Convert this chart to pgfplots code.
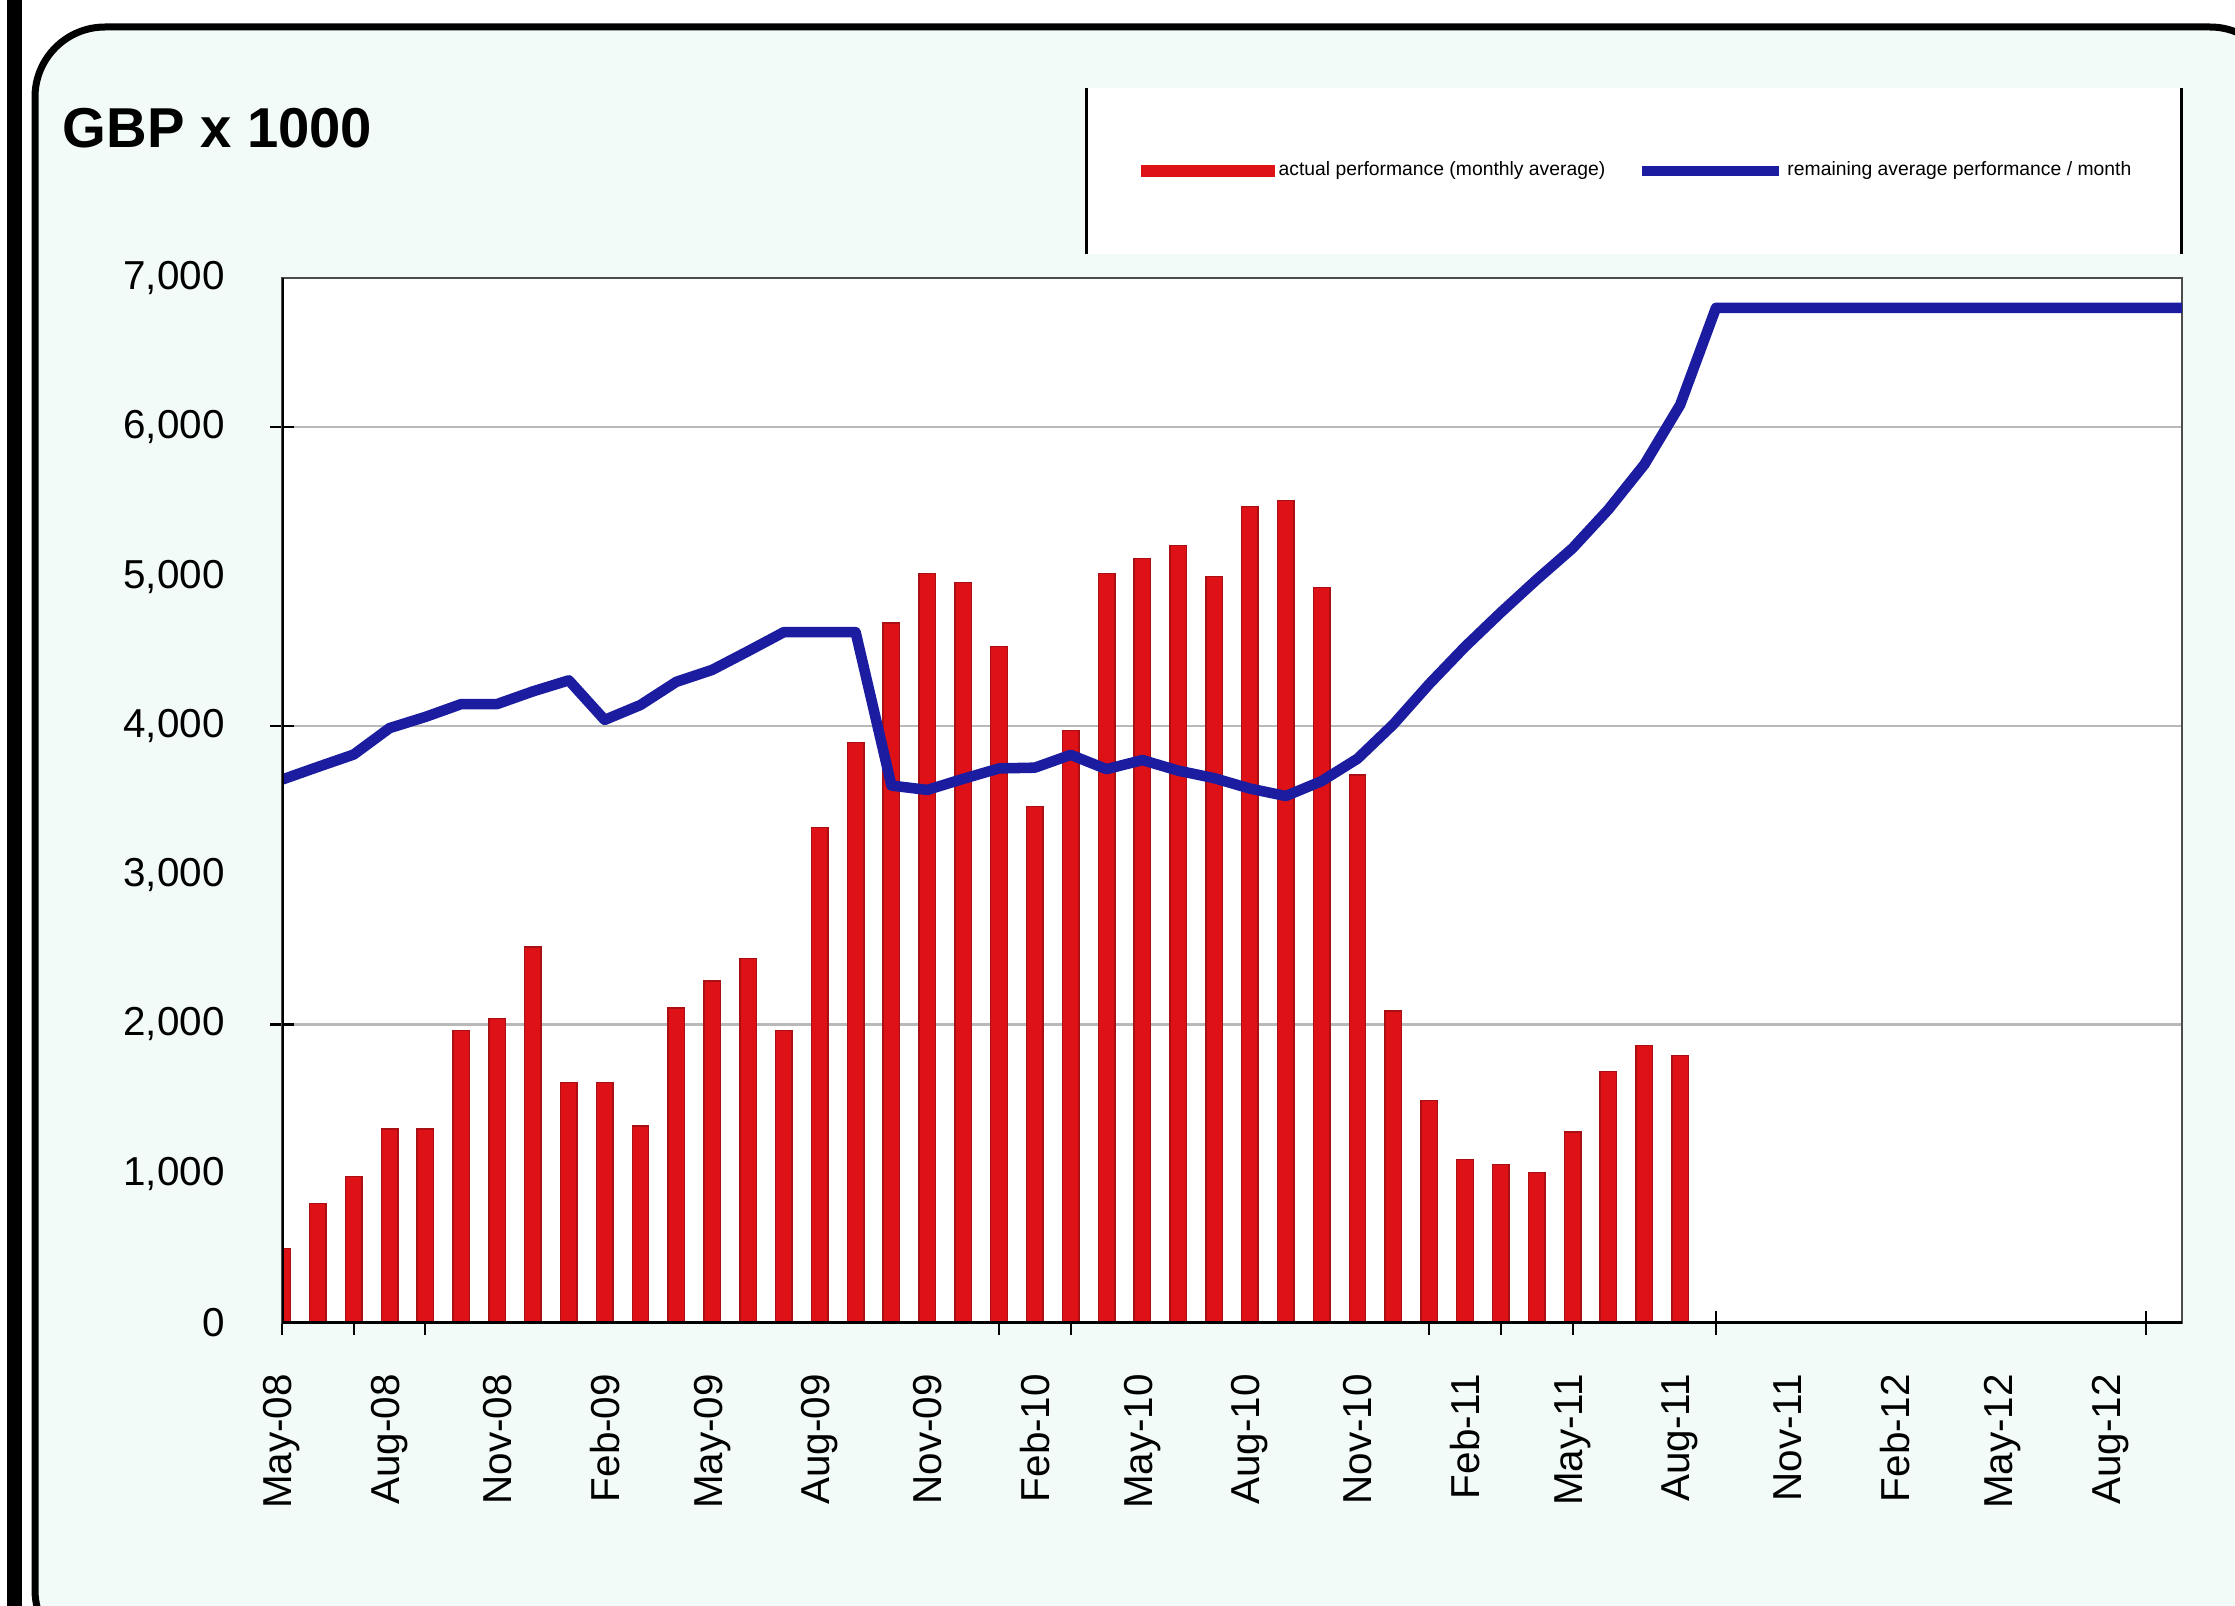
\documentclass[border=0pt]{standalone}
\usepackage{fontspec}
\setmainfont{Liberation Sans}
\usepackage{pgfplots}
\pgfplotsset{compat=1.18}
\definecolor{barred}{RGB}{222,18,22}
\definecolor{baredge}{RGB}{170,15,20}
\definecolor{lineblue}{RGB}{28,28,160}
\definecolor{panel}{RGB}{243,251,249}
\begin{document}
\begin{tikzpicture}
\useasboundingbox (0,0) rectangle (22.35cm,-16.05cm);
\begin{scope}
\clip (0,0) rectangle (22.35cm,-16.05cm);
\fill[white] (0,0) rectangle (22.35cm,-16.05cm);
\fill[black] (0.07cm,0.1cm) rectangle (0.22cm,-16.2cm);
\draw[line width=0.07cm, fill=panel, rounded corners=0.7cm] (0.35cm,-0.27cm) rectangle (22.8cm,-16.6cm);
\end{scope}
\node[anchor=base west, inner sep=0pt, font=\fontsize{16}{19}\selectfont\bfseries] at (0.62cm,-1.48cm) {GBP x 1000};
\fill[white] (10.86cm,-0.88cm) rectangle (21.81cm,-2.54cm);
\draw[black, line width=0.03cm] (10.86cm,-0.88cm) -- (10.86cm,-2.54cm);
\draw[black, line width=0.03cm] (21.81cm,-0.88cm) -- (21.81cm,-2.54cm);
\begin{axis}[
  at={(2.82cm,-13.23cm)}, anchor=south west,
  scale only axis, width=19cm, height=10.45cm,
  xmin=0, xmax=53, ymin=0, ymax=7000,
  axis background/.style={fill=white},
  axis line style={draw=gray!60!black, line width=0.8pt},
  xtick pos=bottom, ytick pos=left,
  xtick={0,3,...,51},
  xticklabels={May-08,Aug-08,Nov-08,Feb-09,May-09,Aug-09,Nov-09,Feb-10,May-10,Aug-10,Nov-10,Feb-11,May-11,Aug-11,Nov-11,Feb-12,May-12,Aug-12},
  ytick={0,1000,...,7000},
  major tick length=0pt,
  minor xtick={0,2,4,20,22,32,34,36,40,52},
  minor ytick={2000,4000,6000},
  minor tick length=0.24cm,
  tick align=center,
  minor tick style={black, line width=0.6pt},
  yminorgrids=true,
  minor grid style={gray!55, line width=0.6pt},
  /pgf/number format/assume math mode=true,
  /pgf/number format/1000 sep={,},
  tick label style={font=\fontsize{11.5}{13}\selectfont},
  xticklabel style={rotate=90, anchor=east},
  xticklabel shift=11pt,
  yticklabel shift=12.8pt,
  legend columns=2,
  legend style={at={(0.4516,1.1024)}, anchor=west, draw=none, fill=none, inner sep=0pt,
    font=\fontsize{5.5}{6.5}\selectfont,
    /tikz/every even column/.append style={column sep=0.29cm},
    nodes={inner sep=1pt}},
]
\addplot[ybar, bar width=0.165cm, bar shift=0pt, fill=barred, draw=baredge, line width=0.4pt,
  legend image code/.code={\fill[barred] (0cm,-0.055cm) rectangle (1.33cm,0.055cm);}]
coordinates {
(0,500) (1,800) (2,980) (3,1300) (4,1300) (5,1960) (6,2040) (7,2520) (8,1610) (9,1610)
(10,1320) (11,2110) (12,2290) (13,2440) (14,1960) (15,3320) (16,3890) (17,4690) (18,5020) (19,4960)
(20,4530) (21,3460) (22,3970) (23,5020) (24,5120) (25,5210) (26,5000) (27,5470) (28,5510) (29,4925)
(30,3670) (31,2090) (32,1490) (33,1095) (34,1060) (35,1010) (36,1280) (37,1685) (38,1860) (39,1790)
};
\addlegendentry{actual performance (monthly average)}
\addplot[lineblue, line width=3pt, line join=round,
  legend image code/.code={\draw[lineblue, line width=2.6pt] (0cm,0cm) -- (1.37cm,0cm);}]
coordinates {
(0,3640) (1,3725) (2,3808) (3,3985) (4,4060) (5,4146) (6,4146) (7,4231) (8,4305) (9,4040)
(10,4140) (11,4295) (12,4375) (13,4500) (14,4628) (15,4628) (16,4628) (17,3600) (18,3571) (19,3645)
(20,3715) (21,3720) (22,3806) (23,3710) (24,3771) (25,3700) (26,3650) (27,3580) (28,3530) (29,3630)
(30,3780) (31,4010) (32,4280) (33,4530) (34,4760) (35,4980) (36,5190) (37,5450) (38,5750) (39,6150)
(40,6800) (53,6800)
};
\addlegendentry{remaining average performance / month}
\draw[black, line width=1.4pt] (rel axis cs:0,0) -- (rel axis cs:1,0);
\draw[black, line width=0.9pt] (rel axis cs:0,0) -- (rel axis cs:0,1);
\end{axis}
\end{tikzpicture}
\end{document}
